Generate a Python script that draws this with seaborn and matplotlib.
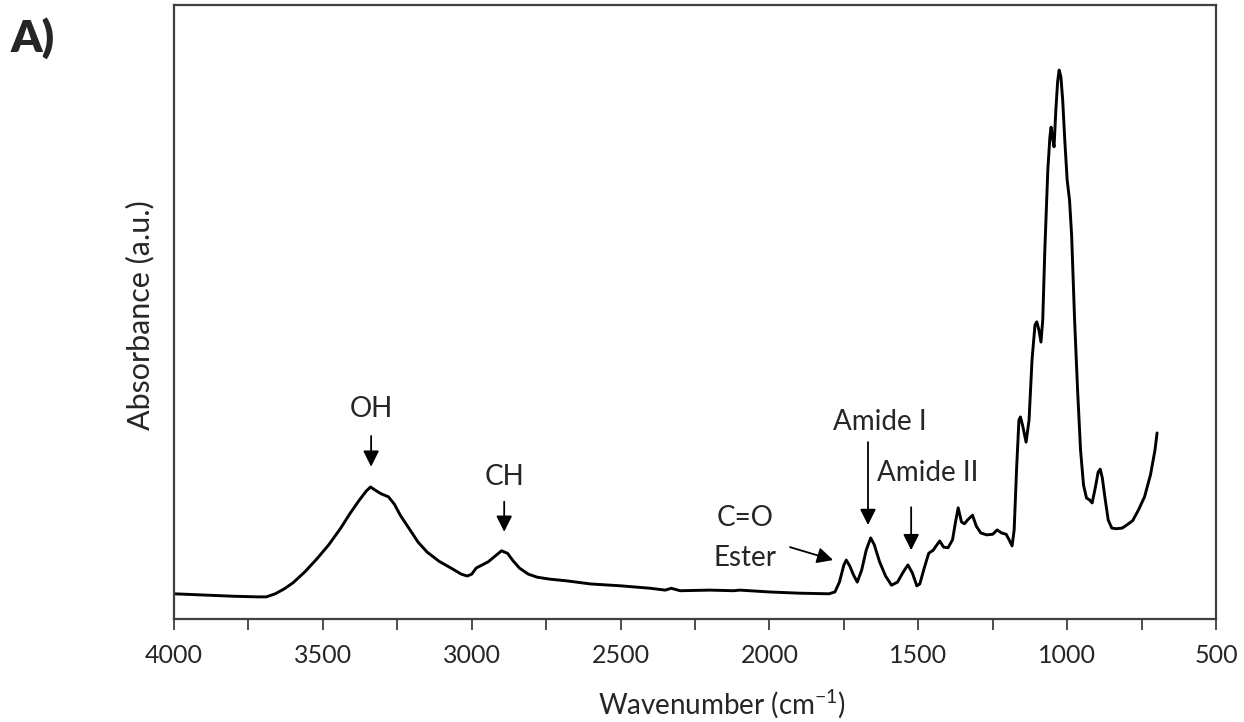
import matplotlib
matplotlib.use("Agg")
import matplotlib.pyplot as plt
from matplotlib.ticker import MultipleLocator, NullLocator
import seaborn as sns

# FTIR spectrum (wavenumber in cm-1, absorbance in arbitrary units)
wavenumber = [
    4000, 3900, 3800, 3720, 3690, 3660, 3630, 3600, 3560, 3520, 3480, 3440,
    3410, 3380, 3355, 3340, 3325, 3305, 3280, 3260, 3240, 3210, 3180, 3150,
    3110, 3070, 3035, 3015, 3000, 2985, 2965, 2945, 2925, 2900, 2880, 2860,
    2840, 2810, 2780, 2740, 2680, 2600, 2500, 2400, 2350, 2330, 2300, 2200,
    2120, 2100, 2000, 1900, 1800, 1780, 1765, 1750, 1742, 1730, 1718, 1705,
    1690, 1675, 1660, 1648, 1630, 1610, 1590, 1570, 1550, 1535, 1520, 1505,
    1495, 1480, 1465, 1450, 1440, 1428, 1415, 1400, 1385, 1375, 1366, 1355,
    1345, 1335, 1318, 1305, 1290, 1270, 1250, 1235, 1220, 1205, 1195, 1185,
    1178, 1170, 1162, 1157, 1150, 1138, 1128, 1118, 1108, 1102, 1095, 1088,
    1082, 1075, 1065, 1058, 1054, 1049, 1044, 1038, 1032, 1027, 1021, 1015,
    1008, 1000, 992, 985, 975, 965, 955, 945, 935, 925, 916, 905,
    896, 889, 882, 872, 862, 850, 835, 815, 800, 780, 760, 740,
    720, 705, 698,
]
absorbance = [
    0.041, 0.039, 0.037, 0.036, 0.036, 0.041, 0.049, 0.059, 0.077, 0.098, 0.121, 0.148,
    0.171, 0.192, 0.208, 0.215, 0.210, 0.204, 0.199, 0.187, 0.169, 0.147, 0.125, 0.109,
    0.094, 0.083, 0.073, 0.070, 0.073, 0.083, 0.088, 0.093, 0.101, 0.111, 0.107, 0.094,
    0.083, 0.073, 0.068, 0.065, 0.062, 0.057, 0.054, 0.050, 0.047, 0.050, 0.046, 0.047,
    0.046, 0.047, 0.044, 0.042, 0.041, 0.044, 0.060, 0.088, 0.096, 0.086, 0.072, 0.060,
    0.080, 0.112, 0.132, 0.121, 0.093, 0.070, 0.055, 0.060, 0.077, 0.088, 0.075, 0.054,
    0.057, 0.083, 0.107, 0.112, 0.119, 0.127, 0.117, 0.116, 0.129, 0.158, 0.181, 0.158,
    0.155, 0.161, 0.169, 0.151, 0.140, 0.137, 0.138, 0.145, 0.140, 0.138, 0.129, 0.119,
    0.145, 0.243, 0.324, 0.329, 0.316, 0.288, 0.324, 0.422, 0.479, 0.484, 0.471, 0.451,
    0.487, 0.601, 0.731, 0.785, 0.801, 0.783, 0.769, 0.829, 0.875, 0.894, 0.883, 0.845,
    0.780, 0.715, 0.682, 0.625, 0.487, 0.373, 0.275, 0.218, 0.197, 0.194, 0.189, 0.215,
    0.239, 0.244, 0.230, 0.194, 0.161, 0.148, 0.147, 0.148, 0.153, 0.160, 0.178, 0.199,
    0.235, 0.275, 0.303,
]

# Band labels and their positions
band_labels = ["OH", "CH", "C=O", "Ester", "Amide I", "Amide II"]
label_xy = [(3338, 0.342), (2891, 0.231), (2082, 0.164), (2082, 0.099),
            (1628, 0.321), (1467, 0.238)]
# Arrows pointing at the bands: tail, tip
arrow_tail = [(3338, 0.298), (2891, 0.191), (1931, 0.117), (1669, 0.288), (1524, 0.182)]
arrow_tip = [(3338, 0.248), (2891, 0.142), (1786, 0.096), (1669, 0.153), (1524, 0.112)]

x_ticks = [4000, 3500, 3000, 2500, 2000, 1500, 1000, 500]

sns.set_theme(style="white")
plt.rcParams["font.family"] = ["Lato", "DejaVu Sans"]
plt.rcParams["mathtext.fontset"] = "custom"
plt.rcParams["mathtext.rm"] = "Lato"

fig = plt.figure(figsize=(12.44, 7.22), dpi=100)
ax = fig.add_axes([0.1399, 0.1427, 0.8376, 0.8504])

sns.lineplot(x=wavenumber, y=absorbance, ax=ax, color="black", linewidth=2.1)

ax.set_xlim(4000, 500)
ax.set_ylim(0, 1.0)
ax.set_xticks(x_ticks)
ax.set_xticklabels([str(t) for t in x_ticks])
ax.xaxis.set_minor_locator(MultipleLocator(250))
ax.yaxis.set_major_locator(NullLocator())
ax.tick_params(axis="x", which="both", direction="out", length=8, width=1.3,
               color="#404040", bottom=True, labelsize=18, pad=10)
for side in ["left", "right", "top", "bottom"]:
    ax.spines[side].set_visible(True)
    ax.spines[side].set_color("#404040")
    ax.spines[side].set_linewidth(1.6)

ax.set_xlabel("Wavenumber (cm$^{\\mathregular{-1}}$)", fontsize=20)
ax.xaxis.set_label_coords(0.526, -0.112)
ax.set_ylabel("Absorbance (a.u.)", fontsize=22)
ax.yaxis.set_label_coords(-0.019, 0.495)

for text, txy in zip(band_labels, label_xy):
    ax.text(txy[0], txy[1], text, ha="center", va="center", fontsize=20)
for tail, tip in zip(arrow_tail, arrow_tip):
    ax.annotate("", xy=tip, xytext=tail,
                arrowprops=dict(arrowstyle="-|>", color="black", lw=1.3,
                                mutation_scale=24, shrinkA=0, shrinkB=0))

fig.text(0.0265, 0.947, "A)", fontsize=32, fontweight="heavy", ha="center", va="center")

fig.savefig("out.png", dpi=100)
